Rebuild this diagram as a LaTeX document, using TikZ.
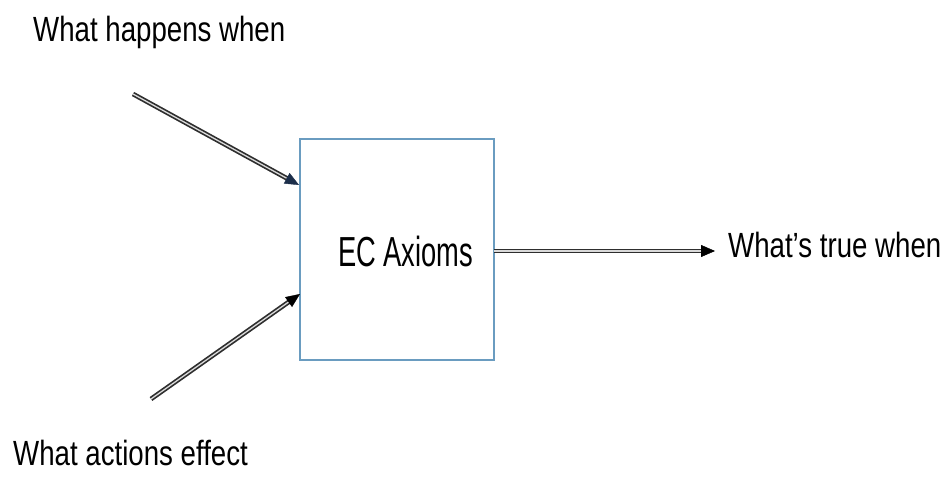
\documentclass[tikz,border=0pt]{standalone}
\usepackage{fontspec}
\setmainfont{Liberation Sans}
\newfontfamily\lblfont[FakeStretch=0.79]{Liberation Sans}
\newfontfamily\boxfont[FakeStretch=0.65]{Liberation Sans}
\usetikzlibrary{arrows.meta,calc}
\definecolor{boxedge}{HTML}{6A9CC0}
\definecolor{wire}{HTML}{2E2E2E}
\definecolor{navytip}{HTML}{1C2E4A}
\tikzset{
  lbl/.style={inner sep=0pt, anchor=base west, font=\lblfont\fontsize{35}{40}\selectfont},
  axiombox/.style={draw=boxedge, line width=1.1pt, fill=white, minimum width=194pt, minimum height=221pt, inner sep=0pt},
  dblwire/.style={draw=wire, line width=1.7pt, double=white!85!black, double distance=1.3pt},
  tiphead/.style={line width=0.4pt, -{Triangle[length=14pt,width=12pt]}},
}
\begin{document}
\begin{tikzpicture}[x=1pt,y=-1pt]
  \useasboundingbox (0,0) rectangle (946,478);

  % central block
  \node[axiombox] (ec) at (397,249.5) {};
  \node[inner sep=0pt, anchor=base west, font=\boxfont\fontsize{42}{46}\selectfont] (ectext) at (338,267) {EC Axioms};

  % labels
  \node[lbl] (happens) at (33,42) {What happens when};
  \node[lbl] (actions) at (13,465) {What actions effect};
  \node[lbl] (truewhen) at (728,258) {What’s true when};

  % connector end points
  \coordinate (s1) at (133,94);
  \coordinate (t1) at (299,185);
  \coordinate (s2) at (151,399);
  \coordinate (t2) at (300,294);
  \coordinate (s3) at (494,251);
  \coordinate (t3) at (715,251);

  % double-line connectors
  \draw[dblwire, shorten >=12pt] (s1) -- (t1);
  \draw[dblwire, shorten >=12pt] (s2) -- (t2);
  \draw[dblwire, shorten >=12pt] (s3) -- (t3);

  % arrow heads
  \draw[tiphead, navytip] ($(t1)!14pt!(s1)$) -- (t1);
  \draw[tiphead, black] ($(t2)!14pt!(s2)$) -- (t2);
  \draw[tiphead, black] ($(t3)!14pt!(s3)$) -- (t3);
\end{tikzpicture}
\end{document}
